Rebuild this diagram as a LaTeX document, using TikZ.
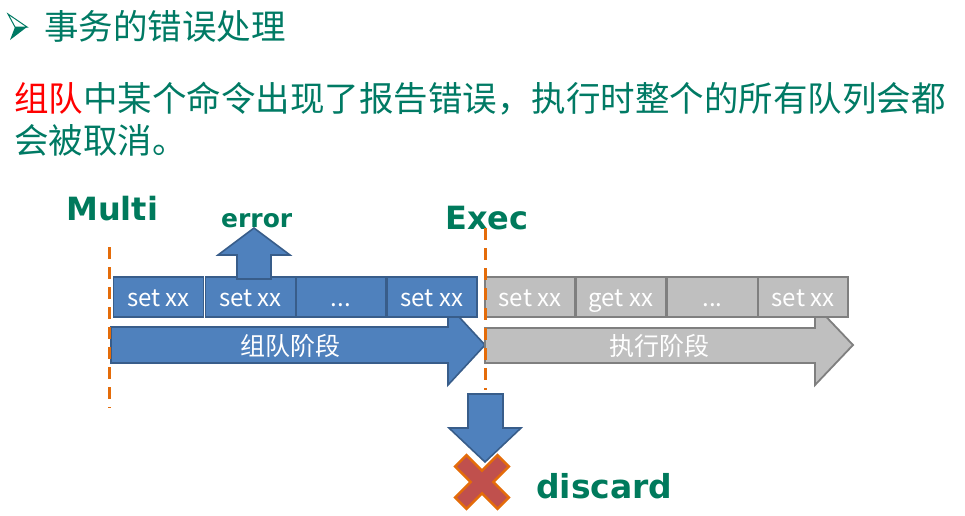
\documentclass[tikz,border=0pt]{standalone}
\usepackage{fontspec}
\newfontfamily\cjk{Noto Sans CJK SC}
\newfontfamily\lbl{DejaVu Sans}
\definecolor{teal}{RGB}{0,122,100}
\definecolor{labelgreen}{RGB}{0,122,92}
\definecolor{boxblue}{RGB}{79,129,189}
\definecolor{edgeblue}{RGB}{56,93,138}
\definecolor{boxgray}{RGB}{191,191,191}
\definecolor{edgegray}{RGB}{127,127,127}
\definecolor{dashorange}{RGB}{228,108,10}
\definecolor{crossred}{RGB}{192,80,77}
\tikzset{
  bluebox/.style={draw=edgeblue, fill=boxblue, line width=1.6pt,
    minimum width=90pt, minimum height=40pt, inner sep=0pt,
    text height=20pt, text depth=2pt,
    text=white, font=\cjk\fontsize{24}{24}\selectfont},
  graybox/.style={bluebox, draw=edgegray, fill=boxgray},
  bluearrow/.style={draw=edgeblue, fill=boxblue, line width=1.6pt, line join=miter},
  grayarrow/.style={draw=edgegray, fill=boxgray, line width=1.8pt, line join=miter},
  phase/.style={text=white, font=\cjk\fontsize{25}{25}\selectfont, inner sep=0pt},
  biglabel/.style={text=labelgreen, font=\lbl\bfseries\fontsize{32}{32}\selectfont, inner sep=0pt, anchor=base west},
  dashline/.style={draw=dashorange, line width=3pt, dash pattern=on 12pt off 8pt},
  bodytext/.style={text=teal, font=\cjk\fontsize{34.5}{34.5}\selectfont, inner sep=0pt, anchor=base west},
}
\begin{document}
\begin{tikzpicture}[x=1pt, y=-1pt]
\useasboundingbox (0,0) rectangle (965,515);

% heading bullet: arrowhead with a light upper facet and a dark lower facet
\draw[teal, fill=white, line width=1pt, line join=miter] (8,14) -- (27,27) -- (15,27) -- cycle;
\fill[teal] (15,27) -- (27,27) -- (10,40) -- cycle;

% heading and explanation
\node[bodytext] (title) at (44,39) {事务的错误处理};
\node[bodytext] (line1) at (14,111) {\textcolor{red}{组队}中某个命令出现了报告错误，执行时整个的所有队列会都};
\node[bodytext] (line2) at (14,153) {会被取消。};

% phase arrows
\draw[bluearrow] (111,327) -- (448,327) -- (448,305) -- (485,345) -- (448,385) -- (448,363) -- (111,363) -- cycle;
\node[phase] (queuephase) at (290,346) {组队阶段};
\draw[grayarrow] (485,328) -- (815,328) -- (815,305) -- (853,345) -- (815,385) -- (815,363) -- (485,363) -- cycle;
\node[phase] (execphase) at (659,346) {执行阶段};

% queued commands
\node[bluebox] (q1) at (158.5,297) {set xx};
\node[bluebox] (q2) at (250.5,297) {set xx};
\node[bluebox] (q3) at (341,297) {...};
\node[bluebox] (q4) at (432,297) {set xx};
\node[graybox] (e1) at (530,297) {set xx};
\node[graybox] (e2) at (621,297) {get xx};
\node[graybox] (e3) at (712.5,297) {...};
\node[graybox] (e4) at (803,297) {set xx};

% error raised by the second command
\draw[bluearrow] (237,279) -- (237,255) -- (218,255) -- (254,228) -- (290,255) -- (271,255) -- (271,279) -- cycle;
\node[biglabel, font=\lbl\bfseries\fontsize{25}{25}\selectfont] (error) at (221,227) {error};

% MULTI / EXEC markers
\node[biglabel] (multi) at (66,220) {Multi};
\node[biglabel] (exec) at (445,229) {Exec};
\coordinate (multitop) at (109,247);
\coordinate (multibot) at (109,408);
\coordinate (exectop) at (485,228);
\coordinate (execbot) at (485,390);
\draw[dashline] (multitop) -- (multibot);
\draw[dashline] (exectop) -- (execbot);

% discarded transaction
\begin{scope}[shift={(482,482)}, rotate=45]
  \draw[fill=crossred, draw=dashorange, line width=2.5pt, line join=miter]
    (-8,-30) -- (8,-30) -- (8,-8) -- (30,-8) -- (30,8) -- (8,8) -- (8,30)
    -- (-8,30) -- (-8,8) -- (-30,8) -- (-30,-8) -- (-8,-8) -- cycle;
\end{scope}
\draw[bluearrow] (468,394) -- (503,394) -- (503,428) -- (521,428) -- (485,462) -- (449,428) -- (468,428) -- cycle;
\node[biglabel, font=\lbl\bfseries\fontsize{33}{33}\selectfont] (discard) at (536,498) {discard};
\end{tikzpicture}
\end{document}
